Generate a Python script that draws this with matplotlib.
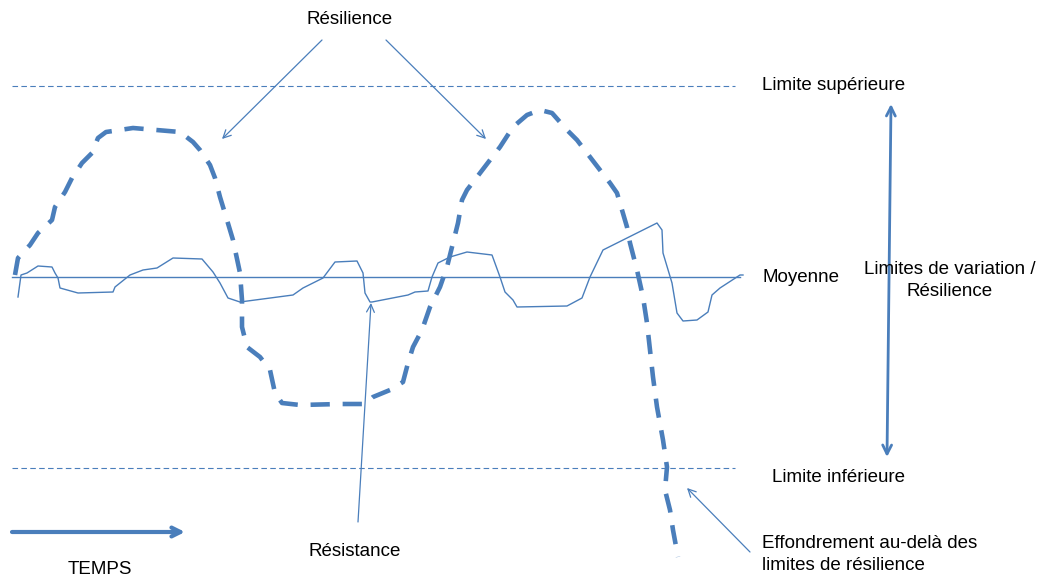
import matplotlib
matplotlib.use("Agg")
import matplotlib.pyplot as plt

# ------------------------------------------------------------------ données (coordonnées du schéma, en pixels)
BLEU = '#4A7EBB'

# courbe épaisse en tirets (résilience puis effondrement)
COURBE_X = [15, 18, 30, 38, 52, 55, 65, 72, 82, 92, 98, 106, 113, 133, 180, 193, 200, 210, 215,
            220, 227, 233, 240, 242, 242, 247, 260, 270, 275, 282, 300, 340, 365, 373, 390,
            403, 408, 413, 422, 430, 440, 447, 453, 458, 462, 467, 477, 490, 500, 513, 527,
            540, 552, 567, 577, 590, 600, 610, 617, 622, 627, 630, 637, 643, 647, 650, 653,
            657, 663, 667, 665, 670, 673, 678]
COURBE_Y = [275, 258, 245, 233, 220, 207, 192, 178, 163, 153, 138, 132, 131, 128, 132, 142, 150, 165, 178,
            197, 220, 240, 273, 300, 327, 347, 357, 370, 393, 403, 405, 404, 404, 397, 390,
            382, 363, 347, 330, 307, 287, 267, 243, 223, 200, 190, 177, 160, 147, 127, 115,
            110, 113, 130, 140, 157, 170, 183, 193, 210, 227, 243, 270, 297, 323, 350, 377,
            407, 440, 467, 490, 510, 530, 557]

# variation fine autour de la moyenne (résistance)
VAR_X = [18, 21, 27, 38, 52, 55, 58, 60, 78, 113, 115, 130, 143, 157, 173, 202, 213, 220, 228,
         240, 293, 303, 323, 335, 357, 363, 365, 370, 372, 408, 415, 428, 432, 438, 450, 467,
         492, 500, 505, 513, 517, 567, 582, 590, 603, 627, 657, 662, 663, 672, 677, 683, 697,
         708, 712, 720, 740, 743]
VAR_Y = [297, 275, 273, 266, 267, 273, 278, 288, 293, 292, 287, 275, 270, 268, 258, 259, 272, 283, 298,
         302, 295, 288, 278, 262, 261, 273, 293, 302, 302, 295, 292, 291, 277, 263, 257, 252,
         255, 277, 292, 300, 307, 306, 298, 277, 250, 238, 223, 230, 253, 283, 313, 321, 320,
         312, 295, 288, 275, 275]

Y_SUP, Y_MOY, Y_INF = 86, 277, 468
X_DEBUT, X_FIN = 12, 740

fig = plt.figure(figsize=(10.4, 5.76), dpi=100)
ax = fig.add_axes([0, 0, 1, 1])
ax.set_xlim(0, 1040)
ax.set_ylim(576, 0)
ax.axis('off')
plt.rcParams['font.family'] = ['Liberation Sans', 'DejaVu Sans']
FS = 13.5

# limites et moyenne
for y in (Y_SUP, Y_INF):
    ax.plot([X_DEBUT, X_FIN - 5], [y, y], color=BLEU, lw=0.8, dashes=(5, 3))
ax.plot([X_DEBUT, X_FIN], [Y_MOY, Y_MOY], color=BLEU, lw=1.0)

# courbes
ax.plot(VAR_X, VAR_Y, color=BLEU, lw=1.0)
ax.plot(COURBE_X, COURBE_Y, color=BLEU, lw=3.3, dashes=(4.2, 2.8),
        dash_capstyle='butt', dash_joinstyle='round')

# flèches
def fleche(xy, xytext, lw=0.9, ms=14, style='->'):
    ax.annotate('', xy=xy, xytext=xytext,
                arrowprops=dict(arrowstyle=style, color=BLEU, lw=lw, mutation_scale=ms,
                                shrinkA=0, shrinkB=0))

fleche((222, 139), (322, 40))
fleche((486, 139), (386, 40))
fleche((371, 303), (358, 522))
fleche((687, 488), (750, 552))
fleche((891, 104), (887, 457), lw=2.0, ms=16, style='<->')
fleche((185, 532), (12, 532), lw=3.0, ms=16)

# textes
ax.text(350, 20, "Résilience", ha='center', va='center', fontsize=FS)
ax.text(762, 86, "Limite supérieure", ha='left', va='center', fontsize=FS)
ax.text(762, 277, "Moyenne", ha='left', va='center', fontsize=FS)
ax.text(950, 269, "Limites de variation /", ha='center', va='center', fontsize=FS)
ax.text(950, 291, "Résilience", ha='center', va='center', fontsize=FS)
ax.text(772, 478, "Limite inférieure", ha='left', va='center', fontsize=FS)
ax.text(762, 543, "Effondrement au-delà des", ha='left', va='center', fontsize=FS)
ax.text(762, 565, "limites de résilience", ha='left', va='center', fontsize=FS)
ax.text(355, 551, "Résistance", ha='center', va='center', fontsize=FS)
ax.text(100, 569, "TEMPS", ha='center', va='center', fontsize=FS)

fig.savefig("out.png", dpi=100)
